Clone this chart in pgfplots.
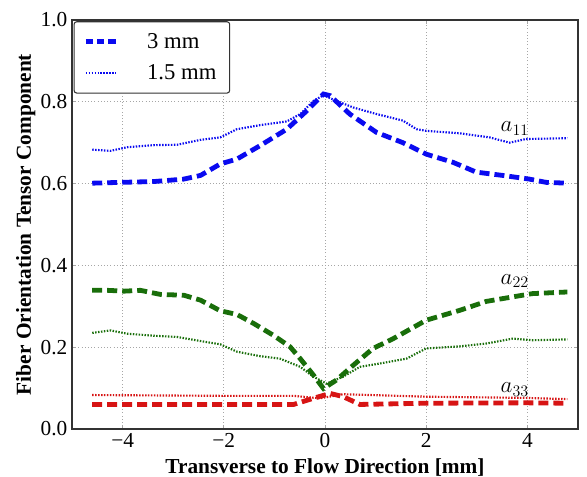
\documentclass[border=0pt]{standalone}
\usepackage{pgfplots}
\pgfplotsset{compat=1.18}
\usepackage{fontspec}
\setmainfont{Liberation Serif}
\definecolor{cblue}{RGB}{10,10,240}
\definecolor{cgreen}{RGB}{25,110,10}
\definecolor{cred}{RGB}{215,20,20}
\begin{document}
\begin{tikzpicture}
\useasboundingbox (-54pt,-36pt) rectangle (386.25pt,321.75pt);
\begin{axis}[
  scale only axis,
  width=379.5pt, height=306.75pt,
  xmin=-5, xmax=5, ymin=0, ymax=1,
  xtick={-4,-2,0,2,4},
  xticklabels={−4,−2,0,2,4},
  ytick={0,0.2,0.4,0.6,0.8,1.0},
  yticklabels={0.0,0.2,0.4,0.6,0.8,1.0},
  ticklabel style={font=\fontsize{16}{18}\selectfont},
  grid=major,
  grid style={gray!70, dotted, line width=0.6pt},
  major tick length=3pt,
  tick style={gray!70, line width=0.6pt},
  tick align=inside,
  axis line style={line width=1pt, black!80},
  xlabel={\textbf{Transverse to Flow Direction [mm]}},
  ylabel={\textbf{Fiber Orientation Tensor Component}},
  label style={font=\fontsize{16}{18}\selectfont},
  xlabel style={yshift=-1pt},
  ylabel style={yshift=-3pt},
  clip=false,
  legend style={at={(rel axis cs:0.003,0.997)}, anchor=north west,
    draw=black!80, rounded corners=2pt, line width=0.8pt,
    font=\fontsize{17}{19}\selectfont, inner xsep=7pt, inner ysep=6.5pt,
    row sep=7pt, nodes={inner xsep=3pt}},
  legend cell align=left,
  legend image code/.code={\draw[#1] (0pt,0pt) -- (22.5pt,0pt); \path[draw=none,fill=none] (0pt,0pt) -- (43pt,0pt);},
  dash3/.style={line width=3.6pt, dash pattern=on 7.5pt off 3.75pt},
  dot15/.style={line width=1.6pt, dash pattern=on 1.1pt off 1.1pt},
]
\addplot[cblue, dash3, legend image post style={dash pattern=on 5.5pt off 3pt}] coordinates {
(-4.6,0.601) (-4.04,0.603) (-3.38,0.605) (-2.79,0.611) (-2.46,0.620) (-2.07,0.648) (-1.74,0.660) (-1.28,0.693) (-0.755,0.733) (-0.36,0.778) (-0.03,0.819) (0.1,0.815) (0.49,0.770) (1.02,0.725) (1.54,0.700) (2.0,0.672) (2.53,0.652) (2.99,0.628) (3.51,0.620) (4.04,0.611) (4.37,0.603) (4.79,0.601)};
\addlegendentry{3 mm}
\addplot[cblue, dot15] coordinates {
(-4.6,0.683) (-4.24,0.680) (-3.91,0.689) (-3.38,0.694) (-2.92,0.695) (-2.46,0.707) (-2.07,0.713) (-1.74,0.733) (-1.28,0.743) (-0.755,0.752) (-0.49,0.770) (-0.23,0.802) (-0.03,0.816) (0.23,0.802) (0.56,0.786) (1.02,0.770) (1.54,0.754) (1.81,0.733) (2.0,0.729) (2.66,0.723) (3.25,0.713) (3.65,0.700) (3.97,0.709) (4.79,0.711)};
\addlegendentry{1.5 mm}
\addplot[cgreen, dash3] coordinates {
(-4.6,0.339) (-4.3,0.339) (-3.97,0.337) (-3.65,0.339) (-3.25,0.329) (-2.79,0.327) (-2.46,0.315) (-2.07,0.289) (-1.74,0.280) (-1.41,0.258) (-1.02,0.229) (-0.69,0.201) (-0.49,0.172) (-0.23,0.132) (-0.03,0.099) (0.23,0.120) (0.56,0.156) (0.95,0.197) (1.35,0.221) (2.0,0.266) (2.66,0.290) (3.19,0.312) (3.71,0.323) (4.1,0.331) (4.79,0.335)};
\addplot[cgreen, dot15] coordinates {
(-4.6,0.235) (-4.24,0.241) (-3.91,0.233) (-3.38,0.228) (-2.92,0.225) (-2.46,0.215) (-2.07,0.207) (-1.74,0.189) (-1.28,0.178) (-0.89,0.172) (-0.49,0.152) (-0.23,0.128) (0.03,0.111) (0.36,0.128) (0.69,0.152) (1.08,0.160) (1.61,0.172) (2.0,0.197) (2.66,0.202) (3.19,0.209) (3.71,0.221) (4.1,0.217) (4.79,0.219)};
\addplot[cred, dash3] coordinates {
(-4.6,0.060) (-3.2,0.060) (-1.28,0.060) (-0.62,0.060) (-0.23,0.075) (0.1,0.087) (0.36,0.079) (0.69,0.060) (2.0,0.063) (3.97,0.064) (4.79,0.063)};
\addplot[cred, dot15] coordinates {
(-4.6,0.083) (-1.94,0.081) (-0.62,0.081) (-0.1,0.075) (0.36,0.085) (2.0,0.079) (3.97,0.076) (4.79,0.073)};
\node[font=\fontsize{17}{18}\selectfont] at (axis cs:3.75,0.735) {$a_{11}$};
\node[font=\fontsize{17}{18}\selectfont] at (axis cs:3.75,0.362) {$a_{22}$};
\node[font=\fontsize{17}{18}\selectfont] at (axis cs:3.75,0.097) {$a_{33}$};
\end{axis}
\end{tikzpicture}
\end{document}
